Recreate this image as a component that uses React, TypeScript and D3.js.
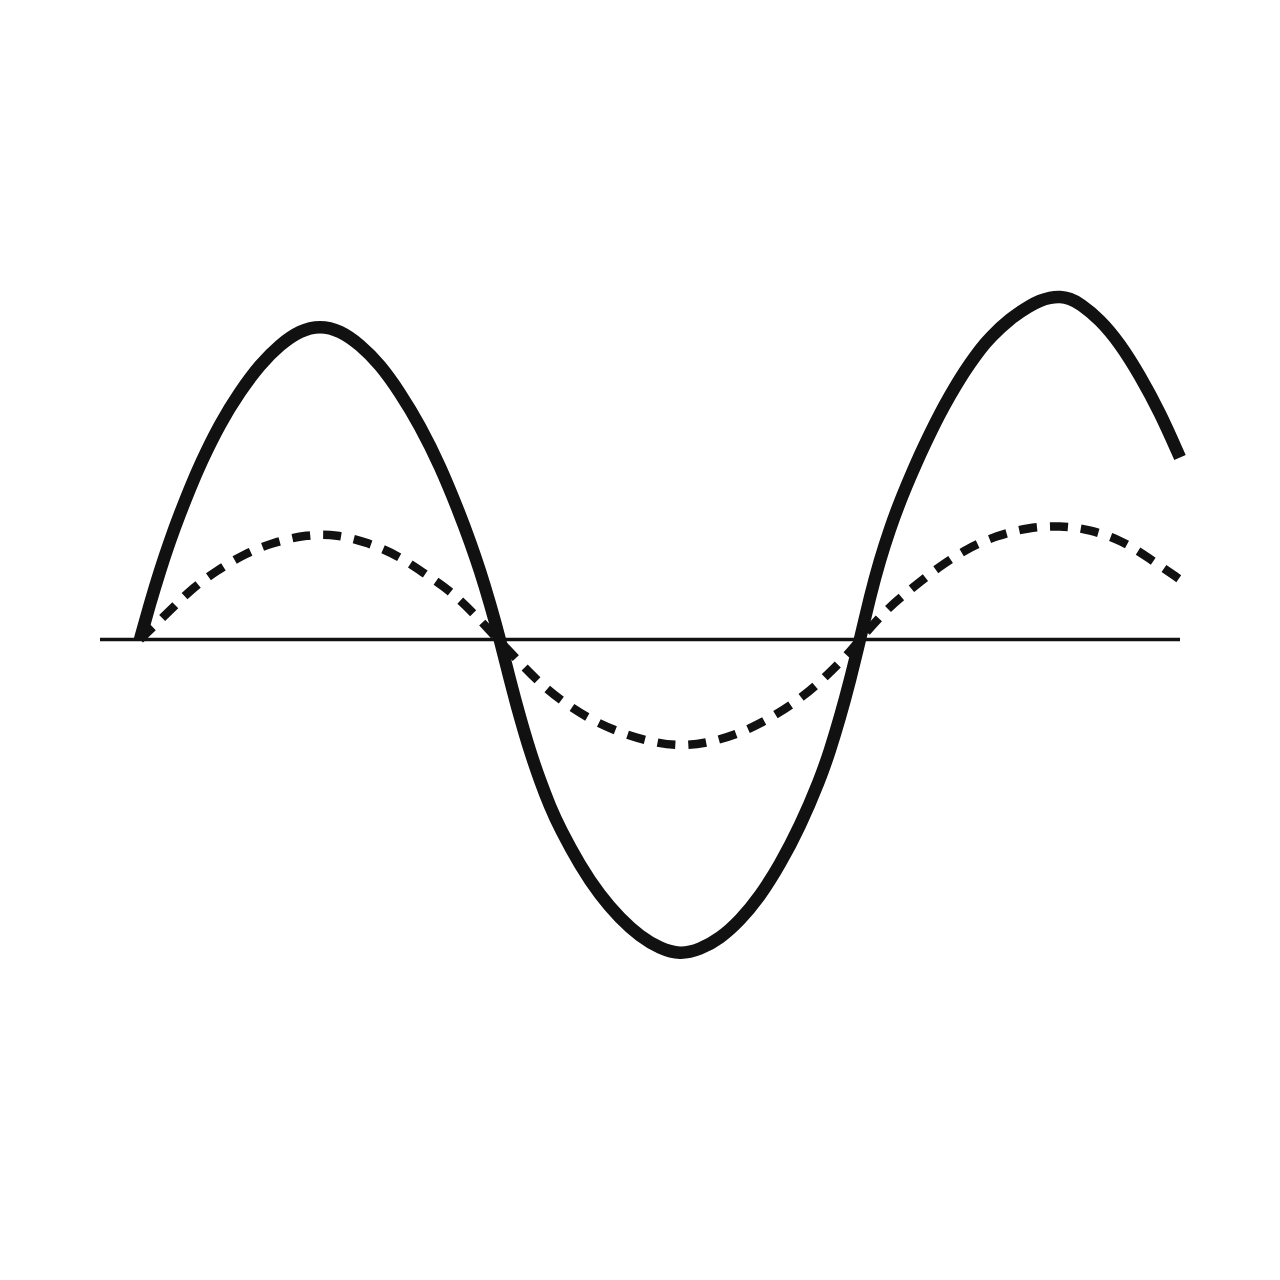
import React, { useEffect, useRef } from 'react';
import * as d3 from 'd3';

// time (x) and amplitude (y) readings for the solid wave
const solidT = [0, 0.5, 1, 1.5, 2, 2.5, 3, 4, 5, 6, 7, 8, 9, 10, 11, 12, 13, 14, 15, 16, 16.5, 17, 17.5, 18,
  18.5, 19, 19.5, 20, 20.5, 21, 22, 23, 24, 25, 26, 27, 28, 29, 30, 31, 32, 33, 34, 34.5, 35, 35.5, 36,
  36.5, 37, 37.5, 38, 38.5, 39, 39.5, 40, 40.5, 41, 41.5, 42, 42.5, 43.5, 44.5, 45, 45.5, 46, 46.5, 47, 48, 49, 50, 51, 52];
const solidV = [0, 0.36, 0.69, 0.99, 1.26, 1.51, 1.75, 2.16, 2.48, 2.75, 2.95, 3.09, 3.14, 3.09, 2.95, 2.75, 2.47, 2.14, 1.74, 1.25, 0.98, 0.69, 0.36, 0,
  -0.41, -0.78, -1.12, -1.41, -1.67, -1.89, -2.26, -2.56, -2.79, -2.97, -3.09, -3.15, -3.10, -2.99, -2.81, -2.57, -2.25, -1.87, -1.40, -1.11, -0.78, -0.41, 0,
  0.43, 0.80, 1.11, 1.38, 1.62, 1.85, 2.06, 2.26, 2.44, 2.61, 2.76, 2.90, 3.02, 3.21, 3.34, 3.39, 3.42, 3.43, 3.41, 3.36, 3.20, 2.96, 2.64, 2.27, 1.82];

// time (x) and amplitude (y) readings for the dashed wave
const dashedT = [0, 1.5, 2.65, 3.85, 5.25, 6.65, 8.35, 9.85, 11.4, 12.9, 14.15, 15.5, 16.65, 17.9,
  18.9, 20, 21.25, 22.6, 24.1, 25.65, 27.15, 28.75, 30.35, 31.75, 33.1, 34.25, 35.35, 36,
  37.35, 38.65, 39.9, 41.35, 42.85, 44.4, 46, 47.5, 49.1, 50.4, 52];
const dashedV = [0, 0.29, 0.52, 0.69, 0.86, 0.97, 1.05, 1.05, 0.97, 0.84, 0.67, 0.49, 0.27, 0,
  -0.21, -0.44, -0.64, -0.81, -0.94, -1.03, -1.07, -1.02, -0.91, -0.76, -0.58, -0.38, -0.16, 0,
  0.31, 0.52, 0.72, 0.91, 1.04, 1.12, 1.14, 1.1, 0.99, 0.82, 0.60];

// zero line extent
const axisT = [-2, 52];

export default function App() {
  const svgRef = useRef<SVGSVGElement>(null);

  useEffect(() => {
    if (!svgRef.current) return;
    const svg = d3.select(svgRef.current);
    svg.selectAll('*').remove();

    const width = 1280;
    const height = 1280;

    const x = d3.scaleLinear().domain([0, 52]).range([140, 1180]);
    const y = d3.scaleLinear().domain([-5, 5]).range([1139.5, 139.5]);

    svg.attr('width', width).attr('height', height);

    svg.append('rect')
      .attr('width', width)
      .attr('height', height)
      .attr('fill', '#ffffff');

    // zero line
    svg.append('line')
      .attr('x1', x(axisT[0]))
      .attr('x2', x(axisT[1]))
      .attr('y1', y(0))
      .attr('y2', y(0))
      .attr('stroke', '#111111')
      .attr('stroke-width', 3.5);

    // B-spline smooths out small reading errors
    const line = d3.line<[number, number]>()
      .x(d => x(d[0]))
      .y(d => y(d[1]))
      .curve(d3.curveBasis);

    const solid: [number, number][] = solidT.map((t, i) => [t, solidV[i]]);
    const dashed: [number, number][] = dashedT.map((t, i) => [t, dashedV[i]]);

    svg.append('path')
      .attr('d', line(dashed))
      .attr('fill', 'none')
      .attr('stroke', '#111111')
      .attr('stroke-width', 8.5)
      .attr('stroke-dasharray', '18,13');

    svg.append('path')
      .attr('d', line(solid))
      .attr('fill', 'none')
      .attr('stroke', '#111111')
      .attr('stroke-width', 12.5);
  }, []);

  return (
    <div style={{ position: 'absolute', left: 0, top: 0, width: 1280, height: 1280 }}>
      <svg ref={svgRef} style={{ display: 'block' }} />
    </div>
  );
}
